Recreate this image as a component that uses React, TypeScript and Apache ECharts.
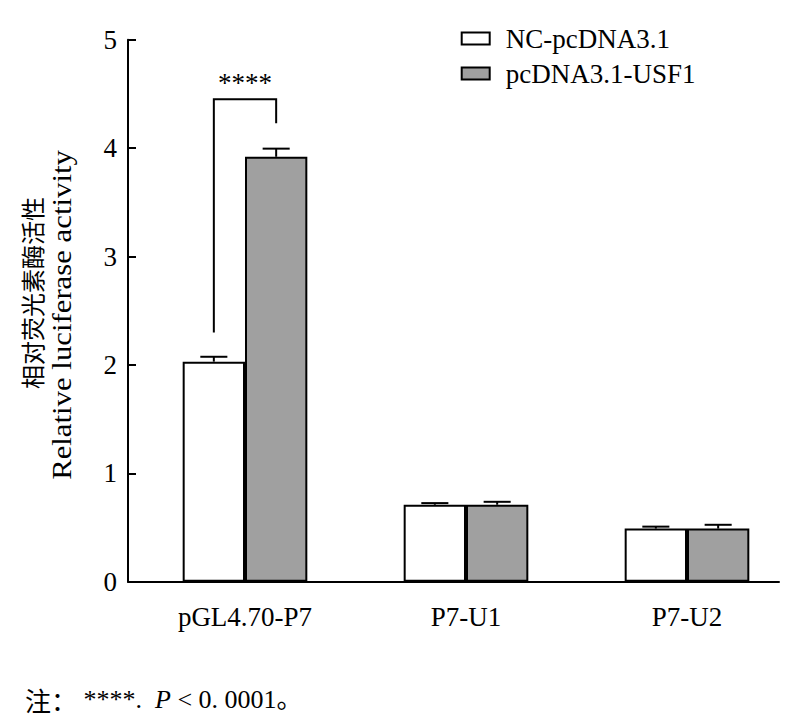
import React, { useEffect, useRef } from 'react';
import * as echarts from 'echarts';

// ---- data ----
const categories = ['pGL4.70-P7', 'P7-U1', 'P7-U2'];
const seriesNames = ['NC-pcDNA3.1', 'pcDNA3.1-USF1'];
const ncValues = [2.03, 0.71, 0.49];
const ncErrors = [0.045, 0.015, 0.018];
const usfValues = [3.92, 0.71, 0.49];
const usfErrors = [0.075, 0.027, 0.035];
const yMin = 0;
const yMax = 5;
const yInterval = 1;
// significance bracket (category index, values in data units)
const sigCategory = 0;
const sigLeftBottom = 2.3;
const sigTop = 4.45;
const sigRightBottom = 4.23;
const sigLabelValue = 4.6;
const sigLabel = '****';
const yTitleZh = '相对荧光素酶活性';
const yTitleEn = 'Relative luciferase activity';
const noteZh = '注：';
const noteStars = ' ****.  ';
const noteP = 'P';
const noteRest = ' < 0. 0001。';

const SERIF = '"Liberation Serif", "Times New Roman", "Noto Sans CJK SC", serif';
const CJK = '"Noto Sans CJK SC", sans-serif';
const GREY = '#a0a0a0';
const BAR_RATIO = 0.282;

function errorRenderer(side: number) {
  return (params: any, api: any) => {
    const idx = api.value(0);
    const v = api.value(1);
    const e = api.value(2);
    const band = api.size([1, 0])[0];
    const bw = band * BAR_RATIO;
    const c = api.coord([idx, v]);
    const t = api.coord([idx, v + e]);
    const x = c[0] + (side * bw) / 2;
    const capHalf = bw * 0.217;
    const st = { stroke: '#000', lineWidth: 2, fill: null };
    return {
      type: 'group',
      children: [
        { type: 'line', shape: { x1: x, y1: c[1], x2: x, y2: t[1] }, style: st },
        { type: 'line', shape: { x1: x - capHalf, y1: t[1], x2: x + capHalf, y2: t[1] }, style: st },
      ],
    };
  };
}

function bracketRenderer(params: any, api: any) {
  const idx = api.value(0);
  const band = api.size([1, 0])[0];
  const bw = band * BAR_RATIO;
  const base = api.coord([idx, sigTop]);
  const xl = base[0] - bw / 2;
  const xr = base[0] + bw / 2;
  const yl = api.coord([idx, sigLeftBottom])[1];
  const yt = base[1];
  const yr = api.coord([idx, sigRightBottom])[1];
  const yLab = api.coord([idx, sigLabelValue])[1];
  return {
    type: 'group',
    children: [
      {
        type: 'polyline',
        shape: { points: [[xl, yl], [xl, yt], [xr, yt], [xr, yr]] },
        style: { stroke: '#000', lineWidth: 2, fill: null },
      },
      {
        type: 'text',
        x: (xl + xr) / 2,
        y: yLab,
        style: {
          text: sigLabel,
          fill: '#000',
          font: `27px ${SERIF}`,
          align: 'center',
          verticalAlign: 'middle',
        },
      },
    ],
  };
}

export default function App() {
  const ref = useRef<HTMLDivElement>(null);
  useEffect(() => {
    if (!ref.current) return;
    const chart = echarts.init(ref.current, null, { renderer: 'svg' });
    const gridTop = 39.7;
    const gridBottom = 136.3;
    const option: any = {
      animation: false,
      backgroundColor: '#fff',
      grid: [
        { left: 134.5, right: 2.5, top: gridTop, bottom: gridBottom },
        { left: 128, right: 21, top: gridTop, bottom: gridBottom },
      ],
      xAxis: [
        {
          type: 'category',
          gridIndex: 0,
          data: categories,
          axisLine: { show: false },
          axisTick: { show: false },
          splitLine: { show: false },
          axisLabel: {
            color: '#000',
            fontSize: 27,
            fontFamily: SERIF,
            margin: 22,
          },
        },
        {
          type: 'value',
          gridIndex: 1,
          min: 0,
          max: 1,
          axisLine: { show: true, lineStyle: { color: '#000', width: 2 } },
          axisTick: { show: false },
          axisLabel: { show: false },
          splitLine: { show: false },
        },
      ],
      yAxis: [
        { type: 'value', gridIndex: 0, min: yMin, max: yMax, interval: yInterval, show: false },
        {
          type: 'value',
          gridIndex: 1,
          min: yMin,
          max: yMax,
          interval: yInterval,
          axisLine: { show: true, lineStyle: { color: '#000', width: 2 } },
          axisTick: { show: true, inside: true, length: 8, lineStyle: { color: '#000', width: 2 } },
          splitLine: { show: false },
          axisLabel: { color: '#000', fontSize: 27, fontFamily: SERIF, margin: 11 },
        },
      ],
      legend: {
        data: seriesNames,
        orient: 'vertical',
        left: 455.7,
        top: 20,
        itemWidth: 28,
        itemHeight: 12,
        itemGap: 8,
        icon: 'rect',
        itemStyle: { borderColor: '#000', borderWidth: 2 },
        textStyle: { color: '#000', fontSize: 27, fontFamily: SERIF, lineHeight: 27, padding: [0, 0, 0, 11] },
      },
      series: [
        {
          name: seriesNames[0],
          type: 'bar',
          xAxisIndex: 0,
          yAxisIndex: 0,
          data: ncValues,
          barWidth: `${BAR_RATIO * 100}%`,
          barGap: '0%',
          itemStyle: { color: '#fff', borderColor: '#000', borderWidth: 2 },
        },
        {
          name: seriesNames[1],
          type: 'bar',
          xAxisIndex: 0,
          yAxisIndex: 0,
          data: usfValues,
          barWidth: `${BAR_RATIO * 100}%`,
          barGap: '0%',
          itemStyle: { color: GREY, borderColor: '#000', borderWidth: 2 },
        },
        {
          type: 'custom',
          xAxisIndex: 0,
          yAxisIndex: 0,
          z: 5,
          silent: true,
          renderItem: errorRenderer(-1),
          data: ncValues.map((v, i) => [i, v, ncErrors[i]]),
        },
        {
          type: 'custom',
          xAxisIndex: 0,
          yAxisIndex: 0,
          z: 5,
          silent: true,
          renderItem: errorRenderer(1),
          data: usfValues.map((v, i) => [i, v, usfErrors[i]]),
        },
        {
          type: 'custom',
          xAxisIndex: 0,
          yAxisIndex: 0,
          z: 5,
          silent: true,
          renderItem: bracketRenderer,
          data: [[sigCategory]],
        },
      ],
      graphic: [
        {
          type: 'text',
          x: 31.7,
          y: 293,
          rotation: Math.PI / 2,
          style: {
            text: yTitleZh,
            fill: '#000',
            font: `24px ${CJK}`,
            align: 'center',
            verticalAlign: 'middle',
          },
        },
        {
          type: 'text',
          x: 62,
          y: 315,
          rotation: Math.PI / 2,
          scaleX: 1.14,
          style: {
            text: yTitleEn,
            fill: '#000',
            font: `27px ${SERIF}`,
            align: 'center',
            verticalAlign: 'middle',
          },
        },
        {
          type: 'text',
          left: 25,
          top: 686,
          style: {
            text: `{a|${noteZh}}{b|${noteStars}}{i|${noteP}}{b|${noteRest}}`,
            rich: {
              a: { fontSize: 26, fontFamily: CJK, fill: '#000' },
              b: { fontSize: 26, fontFamily: SERIF, fill: '#000' },
              i: { fontSize: 26, fontFamily: SERIF, fontStyle: 'italic', fill: '#000' },
            },
          },
        },
      ],
    };
    chart.setOption(option);
    return () => chart.dispose();
  }, []);
  return (
    <div
      ref={ref}
      style={{ position: 'absolute', left: 0, top: 0, width: 800, height: 718, background: '#fff' }}
    />
  );
}
